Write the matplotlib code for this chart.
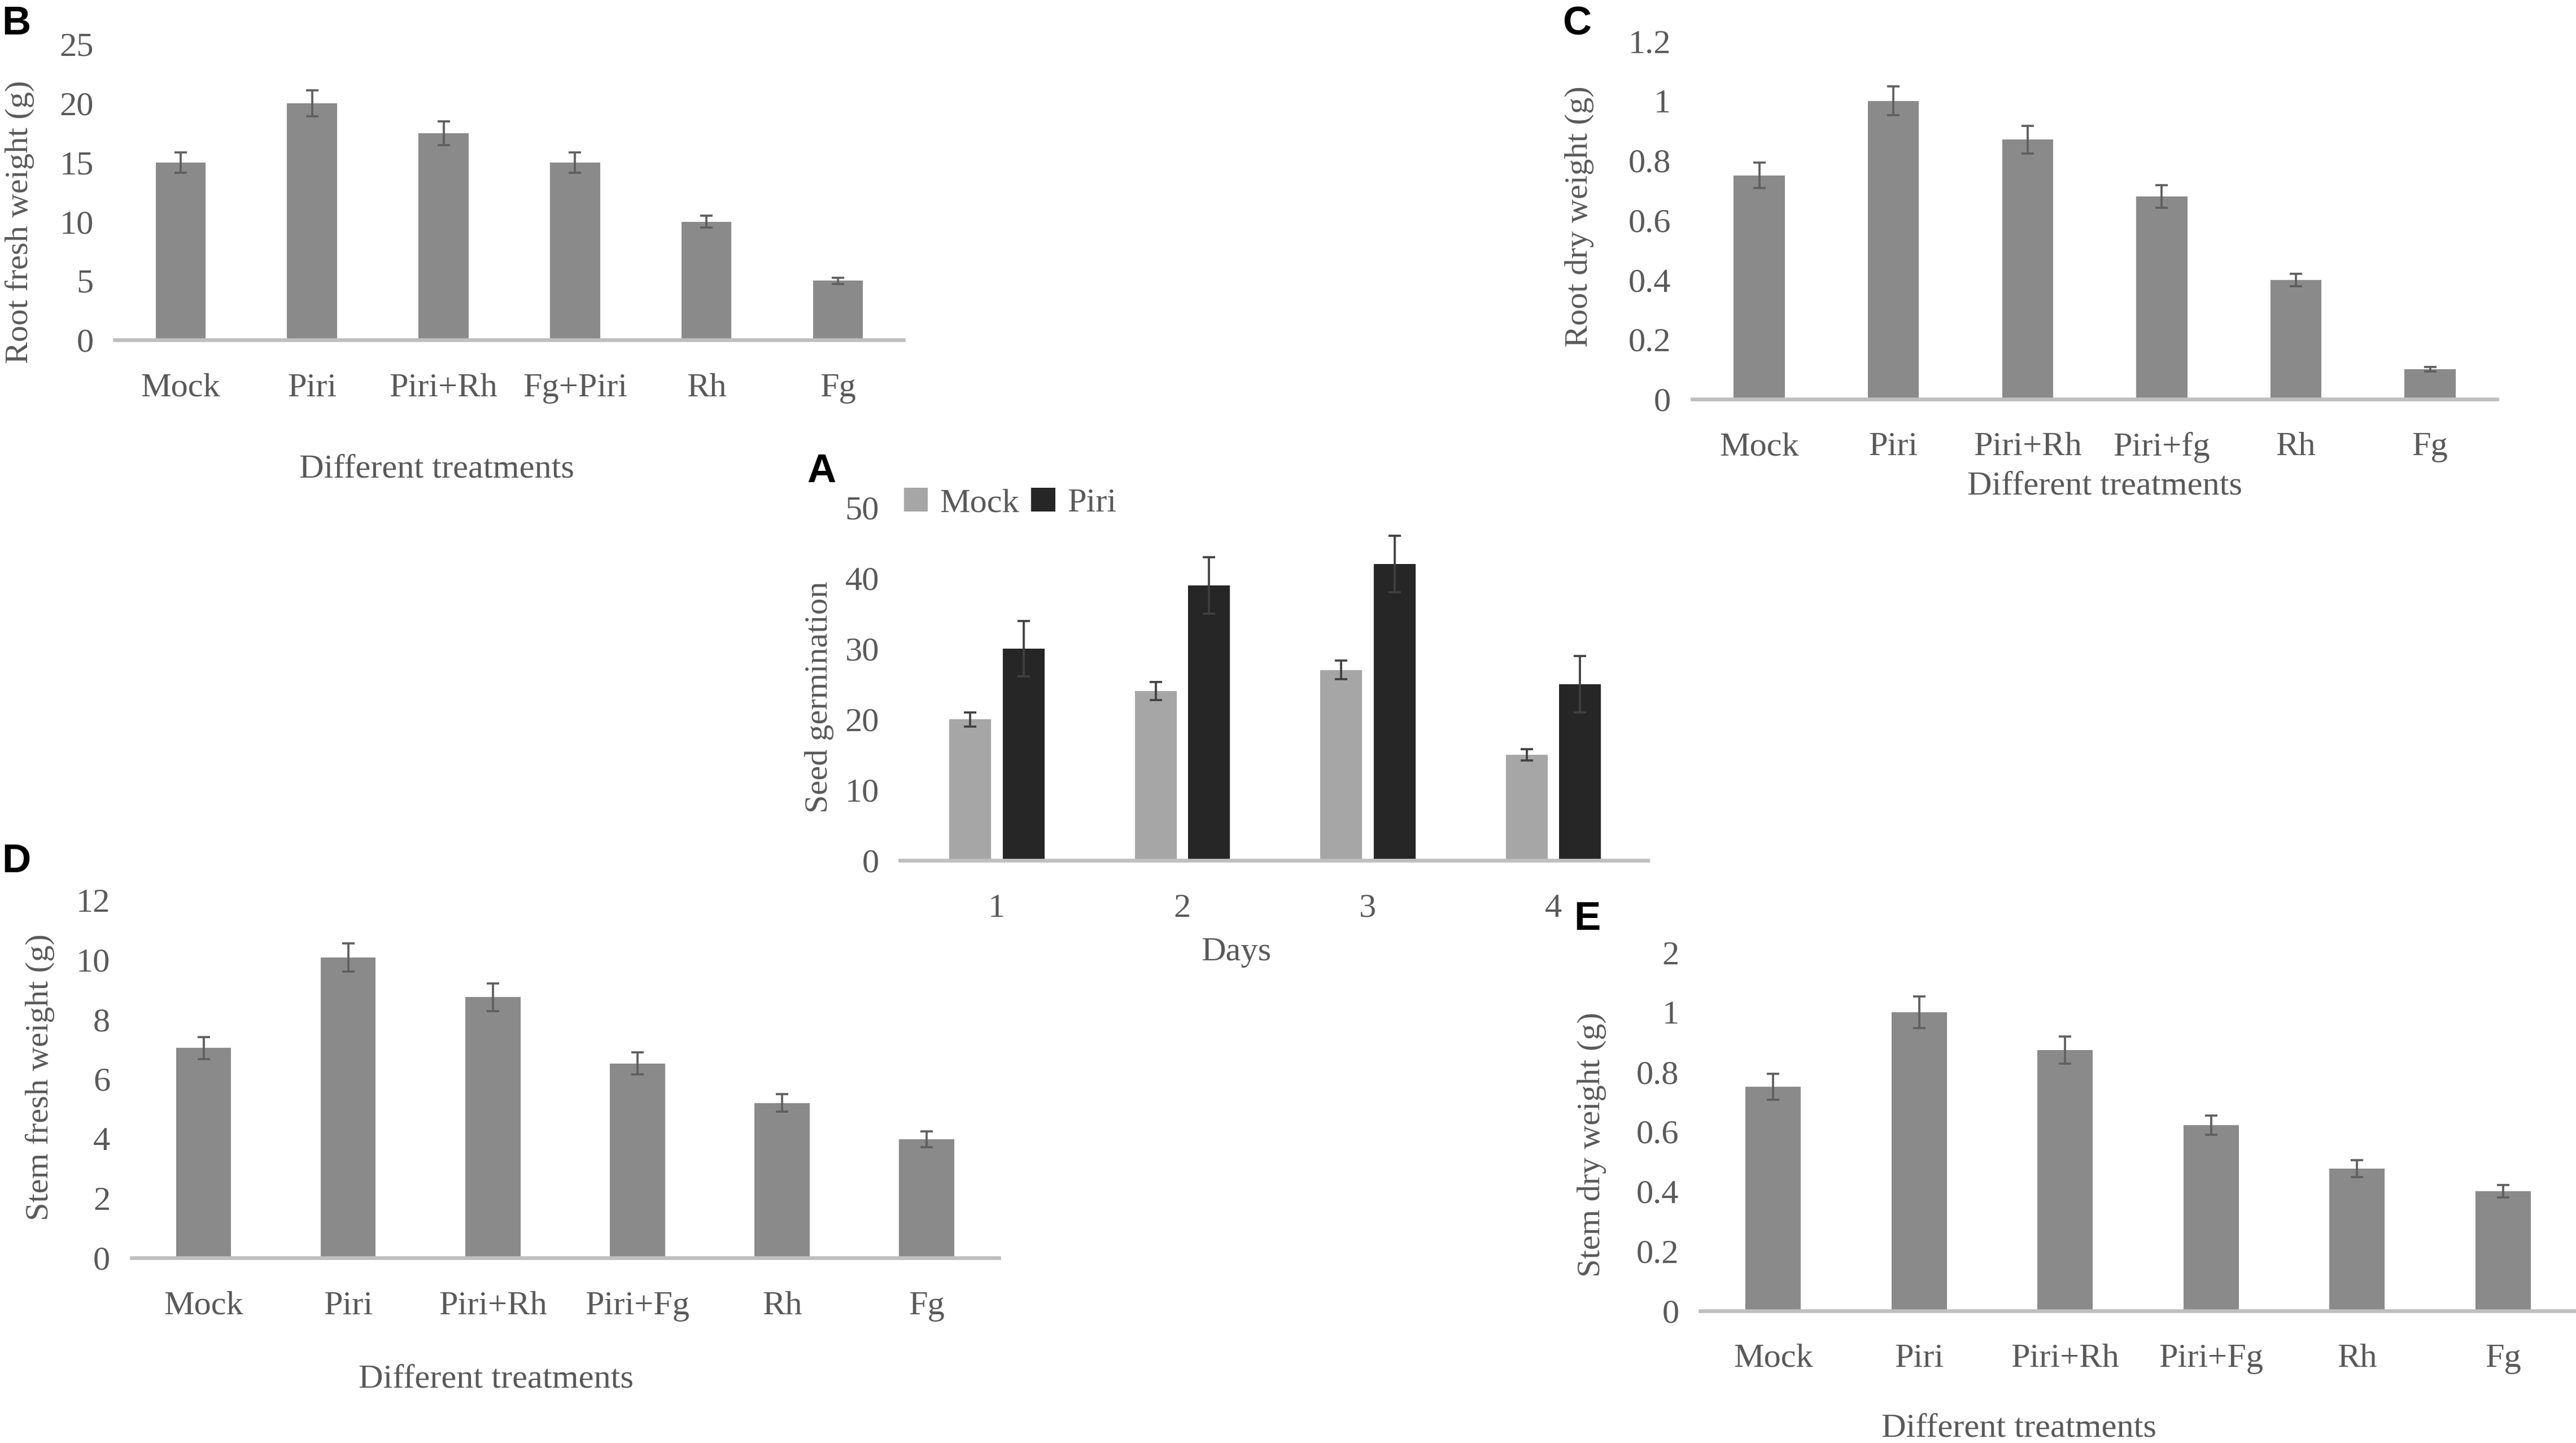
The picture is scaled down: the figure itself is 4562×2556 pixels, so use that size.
import matplotlib
matplotlib.use("Agg")
import matplotlib.pyplot as plt
import numpy as np

plt.rcParams['font.family'] = ['Liberation Serif', 'DejaVu Serif']
plt.rcParams['hatch.linewidth'] = 0.5

TEXT = '#595959'
AXLINE = '#bfbfbf'
ERRC = '#5f5f5f'

# ---- data ----
# A: seed germination
days = ['1', '2', '3', '4']
germ_mock = [20, 24, 27, 15]
germ_mock_err = [1.0, 1.3, 1.3, 0.8]
germ_piri = [30, 39, 42, 25]
germ_piri_err = [3.9, 4.0, 4.0, 4.0]

# B: root fresh weight
b_labels = ['Mock', 'Piri', 'Piri+Rh', 'Fg+Piri', 'Rh', 'Fg']
b_values = [15, 20, 17.5, 15, 10, 5]
b_errors = [0.85, 1.1, 1.0, 0.85, 0.5, 0.27]

# C: root dry weight
c_labels = ['Mock', 'Piri', 'Piri+Rh', 'Piri+fg', 'Rh', 'Fg']
c_values = [0.75, 1.0, 0.87, 0.68, 0.40, 0.10]
c_errors = [0.043, 0.048, 0.046, 0.038, 0.021, 0.007]
c_ticks = [0, 0.2, 0.4, 0.6, 0.8, 1.0, 1.2]
c_ticklabels = ['0', '0.2', '0.4', '0.6', '0.8', '1', '1.2']

# D: stem fresh weight
d_labels = ['Mock', 'Piri', 'Piri+Rh', 'Piri+Fg', 'Rh', 'Fg']
d_values = [7.04, 10.07, 8.74, 6.52, 5.2, 3.98]
d_errors = [0.37, 0.47, 0.46, 0.37, 0.29, 0.26]

# E: stem dry weight
e_labels = ['Mock', 'Piri', 'Piri+Rh', 'Piri+Fg', 'Rh', 'Fg']
e_values = [0.75, 1.0, 0.873, 0.622, 0.476, 0.40]
e_errors = [0.043, 0.053, 0.046, 0.032, 0.029, 0.021]
e_ticks = [0, 0.2, 0.4, 0.6, 0.8, 1.0, 1.2]
e_ticklabels = ['0', '0.2', '0.4', '0.6', '0.8', '1', '2']

FS = 14.5


def style_axes(ax):
    for side in ('top', 'right', 'left'):
        ax.spines[side].set_visible(False)
    ax.spines['bottom'].set_color(AXLINE)
    ax.spines['bottom'].set_linewidth(1.6)
    ax.tick_params(axis='both', length=0, labelsize=FS, colors=TEXT)
    ax.tick_params(axis='x', pad=14)
    ax.tick_params(axis='y', pad=9)
    ax.set_facecolor('none')


def treatment_panel(rect, labels, values, errors, ymax, yticks, yticklabels):
    ax = fig.add_axes(rect)
    x = np.arange(len(labels))
    ax.bar(x, values, width=0.38, color='#aaaaaa', edgecolor='#8a8a8a',
           linewidth=0, hatch='-' * 60, zorder=2)
    ax.errorbar(x, values, yerr=errors, fmt='none', ecolor=ERRC,
                elinewidth=0.9, capsize=2.6, capthick=0.9, zorder=3)
    ax.set_xticks(x)
    ax.set_xticklabels(labels)
    ax.set_xlim(-0.5, 5.5)
    ax.set_ylim(0, ymax)
    ax.set_yticks(yticks)
    ax.set_yticklabels(yticklabels)
    style_axes(ax)
    return ax


fig = plt.figure(figsize=(4562 / 300, 2556 / 300), dpi=300)

# B
treatment_panel([0.0446, 0.7644, 0.3062, 0.2049], b_labels, b_values, b_errors,
                25, [0, 5, 10, 15, 20, 25], ['0', '5', '10', '15', '20', '25'])
# C
treatment_panel([0.6569, 0.7234, 0.3125, 0.2481], c_labels, c_values, c_errors,
                1.2, c_ticks, c_ticklabels)
# D
treatment_panel([0.0510, 0.1282, 0.3368, 0.2481], d_labels, d_values, d_errors,
                12, [0, 2, 4, 6, 8, 10, 12], ['0', '2', '4', '6', '8', '10', '12'])
# E
treatment_panel([0.6600, 0.0917, 0.3400, 0.2482], e_labels, e_values, e_errors,
                1.2, e_ticks, e_ticklabels)

# A
axA = fig.add_axes([0.3495, 0.4036, 0.2902, 0.2447])
xd = np.arange(1, len(days) + 1)
axA.bar(xd - 0.143, germ_mock, width=0.225, color='#a6a6a6', label='Mock', zorder=2)
axA.bar(xd + 0.145, germ_piri, width=0.225, color='#262626', label='Piri', zorder=2)
axA.errorbar(xd - 0.143, germ_mock, yerr=germ_mock_err, fmt='none', ecolor='#404040',
             elinewidth=0.9, capsize=2.6, capthick=0.9, zorder=3)
axA.errorbar(xd + 0.145, germ_piri, yerr=germ_piri_err, fmt='none', ecolor='#404040',
             elinewidth=0.9, capsize=2.6, capthick=0.9, zorder=3)
axA.set_xticks(xd)
axA.set_xticklabels(days)
axA.set_xlim(0.48, 4.51)
axA.set_ylim(0, 50)
axA.set_yticks([0, 10, 20, 30, 40, 50])
style_axes(axA)
axA.legend(loc='center left', bbox_to_anchor=(0.005, 1.012), frameon=False, ncol=2,
           fontsize=FS, handlelength=0.7, handleheight=0.7, handletextpad=0.35,
           columnspacing=0.35, borderpad=0, borderaxespad=0, labelcolor=TEXT)

# axis titles
fig.text(0.1696, 0.6745, 'Different treatments', ha='center', va='center', fontsize=FS, color=TEXT)
fig.text(0.8170, 0.6631, 'Different treatments', ha='center', va='center', fontsize=FS, color=TEXT)
fig.text(0.4800, 0.3399, 'Days', ha='center', va='center', fontsize=FS, color=TEXT)
fig.text(0.1926, 0.0439, 'Different treatments', ha='center', va='center', fontsize=FS, color=TEXT)
fig.text(0.7838, 0.0098, 'Different treatments', ha='center', va='center', fontsize=FS, color=TEXT)

fig.text(0.0077, 0.846, 'Root fresh weight (g)', rotation=90, ha='center', va='center', fontsize=14, color=TEXT)
fig.text(0.6130, 0.850, 'Root dry weight (g)', rotation=90, ha='center', va='center', fontsize=14, color=TEXT)
fig.text(0.3180, 0.517, 'Seed germination', rotation=90, ha='center', va='center', fontsize=14, color=TEXT)
fig.text(0.0156, 0.2534, 'Stem fresh weight (g)', rotation=90, ha='center', va='center', fontsize=14, color=TEXT)
fig.text(0.6180, 0.2067, 'Stem dry weight (g)', rotation=90, ha='center', va='center', fontsize=14, color=TEXT)

# panel letters
for letter, px, py in [('B', 0.0064, 0.983), ('C', 0.6122, 0.983), ('A', 0.3189, 0.673),
                       ('D', 0.0064, 0.4025), ('E', 0.6161, 0.3626)]:
    fig.text(px, py, letter, ha='center', va='center', fontsize=17, fontweight='bold',
             family=['Liberation Sans', 'DejaVu Sans'], color='black')

fig.savefig('out.png', dpi=300, facecolor='white')
